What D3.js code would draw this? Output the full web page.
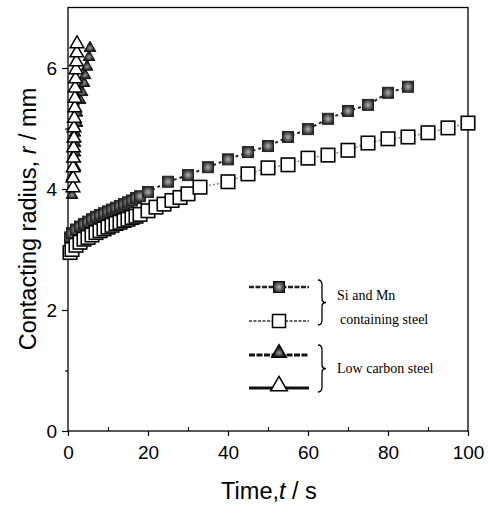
<!DOCTYPE html>
<html><head><meta charset="utf-8">
<script src="https://cdn.jsdelivr.net/npm/d3@7"></script>
<style>body{margin:0;background:#fff}svg{display:block}</style>
</head><body>
<svg id="c" width="488" height="505"></svg>
<script>
// Si and Mn containing steel — filled squares
const siFilledT = [0.5,1,2,3,4,5,6,7,8,9,10,11,12,13,14,15,16,17,18,20,25,30,35,40,45,50,55,60,65,70,75,80,85];
const siFilledR = [3.2,3.27,3.33,3.38,3.42,3.46,3.5,3.54,3.57,3.6,3.63,3.66,3.69,3.72,3.75,3.78,3.81,3.85,3.88,3.95,4.12,4.23,4.36,4.49,4.61,4.71,4.86,4.99,5.16,5.29,5.39,5.59,5.69];
// Si and Mn containing steel — open squares
const siOpenT = [0.5,1,2,3,4,5,6,7,8,9,10,11,12,13,14,15,16,17,18,20,22,24,26,28,30,33,40,45,50,55,60,65,70,75,80,85,90,95,100];
const siOpenR = [2.95,3.0,3.07,3.12,3.17,3.2,3.24,3.28,3.31,3.34,3.37,3.4,3.43,3.45,3.48,3.5,3.53,3.55,3.58,3.64,3.7,3.75,3.81,3.86,3.92,4.03,4.12,4.25,4.35,4.4,4.51,4.56,4.64,4.76,4.83,4.86,4.93,5.01,5.09];
// Low carbon steel — filled triangles
const lcFilledT = [1,1,1.75,1.75,1.75,1.75,2.25,2.25,3,3.5,4,4.25,4.75,5.25,5.5];
const lcFilledR = [3.9,4.2,4.36,4.6,4.76,4.93,5.09,5.26,5.47,5.6,5.75,5.88,6.02,6.18,6.33];
// Low carbon steel — open triangles
const lcOpenT = [1.25,1.25,1.3,1.4,1.4,1.5,1.5,1.6,1.7,1.75,1.8,1.9,2.0,2.1,2.2,2.25];
const lcOpenR = [4.02,4.18,4.35,4.51,4.68,4.84,5.01,5.17,5.34,5.5,5.67,5.82,5.97,6.1,6.25,6.4];

const xTicks = [0,20,40,60,80,100];
const yTicks = [0,2,4,6];
const legendLabels = ["Si and Mn", "containing steel", "Low carbon steel"];

const svg = d3.select("#c");
const m = {l:68, r:468, t:7.5, b:431};
const x = d3.scaleLinear().domain([0,100]).range([m.l, m.r]);
const y = d3.scaleLinear().domain([0,7]).range([m.b, m.t]);

const defs = svg.append("defs");
const g1 = defs.append("radialGradient").attr("id","gs");
g1.append("stop").attr("offset","0%").attr("stop-color","#b0b0b0");
g1.append("stop").attr("offset","45%").attr("stop-color","#777");
g1.append("stop").attr("offset","100%").attr("stop-color","#2a2a2a");
const g2 = defs.append("radialGradient").attr("id","gt").attr("cy","65%");
g2.append("stop").attr("offset","0%").attr("stop-color","#999");
g2.append("stop").attr("offset","60%").attr("stop-color","#333");
g2.append("stop").attr("offset","100%").attr("stop-color","#111");

// frame
svg.append("rect").attr("x",m.l).attr("y",m.t).attr("width",m.r-m.l).attr("height",m.b-m.t)
  .attr("fill","none").attr("stroke","#000").attr("stroke-width",1.3);

// axes
const xa = svg.append("g").attr("transform",`translate(0,${m.b})`)
  .call(d3.axisBottom(x).tickValues(xTicks).tickSize(5).tickFormat(d3.format("d")));
const xm = svg.append("g").attr("transform",`translate(0,${m.b})`)
  .call(d3.axisTop(x).tickValues([10,30,50,70,90]).tickSize(4).tickFormat(""));
const ya = svg.append("g").attr("transform",`translate(${m.l},0)`)
  .call(d3.axisLeft(y).tickValues(yTicks).tickSize(6).tickFormat(d3.format("d")));
const ym = svg.append("g").attr("transform",`translate(${m.l},0)`)
  .call(d3.axisLeft(y).tickValues([1,3,5]).tickSize(3).tickFormat(""));
[xa,xm,ya,ym].forEach(a=>{a.select(".domain").remove();a.selectAll("line").attr("stroke","#000").attr("stroke-width",1.2);});
xa.selectAll("text").attr("font-family","Liberation Sans, Arial, sans-serif").attr("font-size",19).attr("fill","#000").attr("dy","1.05em");
ya.selectAll("text").attr("font-family","Liberation Sans, Arial, sans-serif").attr("font-size",19).attr("fill","#000").attr("dx","-0.1em");

// titles
const xt = svg.append("text").attr("x",269).attr("y",499).attr("text-anchor","middle")
  .attr("font-family","Liberation Sans, Arial, sans-serif").attr("font-size",23.5);
xt.append("tspan").text("Time,");
xt.append("tspan").attr("font-style","italic").text("t");
xt.append("tspan").text(" / s");
const yt = svg.append("text").attr("transform","translate(36,219) rotate(-90)").attr("text-anchor","middle")
  .attr("font-family","Liberation Sans, Arial, sans-serif").attr("font-size",23.5);
yt.append("tspan").text("Contacting radius, ");
yt.append("tspan").attr("font-style","italic").text("r");
yt.append("tspan").text(" / mm");

const line = d3.line().x(d=>x(d[0])).y(d=>y(d[1]));
const zip = (a,b)=>a.map((v,i)=>[v,b[i]]);
const sF = zip(siFilledT, siFilledR), sO = zip(siOpenT, siOpenR);
const tF = zip(lcFilledT, lcFilledR), tO = zip(lcOpenT, lcOpenR);

const plot = svg.append("g");
plot.append("path").datum(sF).attr("d",line).attr("fill","none").attr("stroke","#222").attr("stroke-width",2).attr("stroke-dasharray","3,3");
plot.append("path").datum(sO).attr("d",line).attr("fill","none").attr("stroke","#888").attr("stroke-width",1.5).attr("stroke-dasharray","2,2");

const sq = (sel, data, s, fill, stroke, sw) => sel.selectAll(null).data(data).join("rect")
  .attr("x",d=>x(d[0])-s/2).attr("y",d=>y(d[1])-s/2).attr("width",s).attr("height",s)
  .attr("fill",fill).attr("stroke",stroke).attr("stroke-width",sw);
const tri = (sel, data, s, fill, stroke, sw) => sel.selectAll(null).data(data).join("path")
  .attr("d", d3.symbol().type(d3.symbolTriangle).size(s))
  .attr("transform", d=>`translate(${x(d[0])},${y(d[1])})`)
  .attr("fill",fill).attr("stroke",stroke).attr("stroke-width",sw);

sq(plot, sF, 11, "url(#gs)", "#222", 1);
sq(plot, sO, 13.5, "#fff", "#000", 1.6);
plot.append("path").datum(tF).attr("d",line).attr("fill","none").attr("stroke","#222").attr("stroke-width",1.5);
tri(plot, tF, 60, "url(#gt)", "#111", 1);
plot.append("path").datum(tO).attr("d",line).attr("fill","none").attr("stroke","#000").attr("stroke-width",1.5);
tri(plot, tO, 80, "#fff", "#000", 1.5);

// legend
const lg = svg.append("g");
const rows = [
  {yy:287, kind:"sq", fill:"url(#gs)", col:"#222", dash:"5,1.5", sw:2.5},
  {yy:321, kind:"sq", fill:"#fff", col:"#666", dash:"3,1.5", sw:1.8},
  {yy:355, kind:"tri", fill:"url(#gt)", col:"#111", dash:"6,1.5", sw:3},
  {yy:388, kind:"tri", fill:"#fff", col:"#111", dash:null, sw:3}
];
rows.forEach(r=>{
  lg.append("line").attr("x1",249).attr("x2",309).attr("y1",r.yy).attr("y2",r.yy)
    .attr("stroke",r.col).attr("stroke-width",r.sw).attr("stroke-dasharray",r.dash);
  if(r.kind==="sq"){
    const s = r.fill==="#fff"?13:11;
    lg.append("rect").attr("x",279-s/2).attr("y",r.yy-s/2).attr("width",s).attr("height",s)
      .attr("fill",r.fill).attr("stroke","#000").attr("stroke-width",r.fill==="#fff"?1.5:1);
  } else {
    lg.append("path").attr("d",d3.symbol().type(d3.symbolTriangle).size(r.fill==="#fff"?120:90))
      .attr("transform",`translate(279,${r.yy-2})`).attr("fill",r.fill).attr("stroke","#000").attr("stroke-width",1.5);
  }
});
const brace = (x0, y0, y1) => {
  const ym = (y0+y1)/2;
  return `M${x0},${y0} Q${x0+4},${y0} ${x0+4},${y0+5} L${x0+4},${ym-4} Q${x0+4},${ym} ${x0+8},${ym} Q${x0+4},${ym} ${x0+4},${ym+4} L${x0+4},${y1-5} Q${x0+4},${y1} ${x0},${y1}`;
};
lg.append("path").attr("d",brace(318,280,325)).attr("fill","none").attr("stroke","#000").attr("stroke-width",1.3);
lg.append("path").attr("d",brace(318,345,392)).attr("fill","none").attr("stroke","#000").attr("stroke-width",1.3);
const lt = {"font-family":"Liberation Serif, Times New Roman, serif","font-size":14};
lg.append("text").attr("x",337).attr("y",300).attr("font-family",lt["font-family"]).attr("font-size",lt["font-size"]).text(legendLabels[0]);
lg.append("text").attr("x",340).attr("y",324).attr("font-family",lt["font-family"]).attr("font-size",lt["font-size"]).text(legendLabels[1]);
lg.append("text").attr("x",337).attr("y",373).attr("font-family",lt["font-family"]).attr("font-size",lt["font-size"]).text(legendLabels[2]);
</script>
</body></html>
